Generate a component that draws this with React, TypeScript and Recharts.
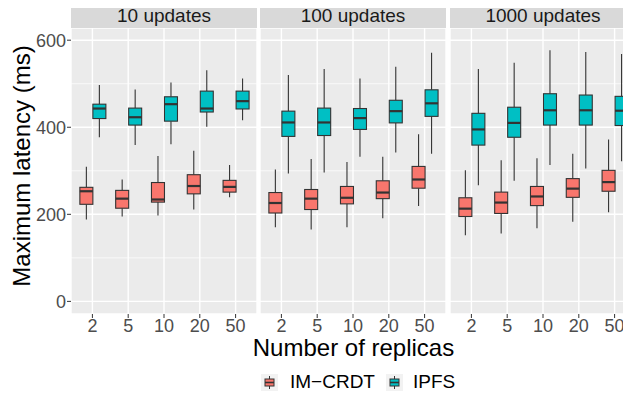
import React from "react";
import {
  ComposedChart,
  Bar,
  XAxis,
  YAxis,
  CartesianGrid,
} from "recharts";

// --- categories ---
const replicas = ["2", "5", "10", "20", "50"];
const facets = ["10 updates", "100 updates", "1000 updates"];
const yTicks = [0, 200, 400, 600];
const yMinor = [100, 300, 500];

// each entry: [lower whisker, q1, median, q3, upper whisker]
const crdt10 = [
  [188, 223, 253, 262, 309],
  [195, 214, 236, 255, 280],
  [197, 228, 234, 273, 334],
  [211, 247, 265, 291, 346],
  [239, 251, 263, 278, 313],
];
const ipfs10 = [
  [377, 420, 443, 453, 497],
  [359, 405, 423, 444, 487],
  [361, 414, 453, 470, 503],
  [401, 435, 443, 483, 531],
  [416, 442, 460, 483, 512],
];
const crdt100 = [
  [170, 203, 226, 250, 303],
  [165, 211, 236, 257, 327],
  [170, 224, 238, 264, 320],
  [191, 236, 250, 277, 332],
  [219, 260, 280, 310, 384],
];
const ipfs100 = [
  [294, 379, 411, 437, 520],
  [296, 381, 411, 444, 534],
  [332, 395, 421, 443, 512],
  [342, 410, 437, 462, 539],
  [339, 425, 455, 486, 571],
];
const crdt1000 = [
  [152, 195, 213, 238, 301],
  [156, 202, 227, 251, 324],
  [168, 220, 241, 264, 329],
  [183, 239, 259, 282, 339],
  [205, 253, 274, 301, 372],
];
const ipfs1000 = [
  [267, 359, 395, 432, 534],
  [277, 377, 410, 446, 548],
  [313, 405, 439, 477, 577],
  [305, 405, 439, 474, 573],
  [322, 404, 438, 471, 568],
];

const RED = "#F8766D";
const BLUE = "#00BFC4";
const INK = "#333333";

const buildRows = (crdt: number[][], ipfs: number[][]) =>
  replicas.map((rep, i) => ({ rep, crdt: crdt[i], ipfs: ipfs[i] }));

const facetData = [
  buildRows(crdt10, ipfs10),
  buildRows(crdt100, ipfs100),
  buildRows(crdt1000, ipfs1000),
];

// boxplot drawn inside the range bar [low, high]; other stats interpolated on the same scale
const makeBox = (key: "crdt" | "ipfs", color: string) => (props: any) => {
  const { x, y, width, height, payload } = props;
  const stats = payload[key];
  const [low, q1, med, q3, high] = stats;
  const top = Math.min(y, y + height);
  const bottom = Math.max(y, y + height);
  const py = (v: number) => bottom - ((v - low) / (high - low)) * (bottom - top);
  const cx = x + width / 2;
  return (
    <g>
      <line x1={cx} x2={cx} y1={py(high)} y2={py(q3)} stroke={INK} strokeWidth={1.1} />
      <line x1={cx} x2={cx} y1={py(q1)} y2={py(low)} stroke={INK} strokeWidth={1.1} />
      <rect
        x={x}
        y={py(q3)}
        width={width}
        height={py(q1) - py(q3)}
        fill={color}
        stroke={INK}
        strokeWidth={1.1}
      />
      <line x1={x} x2={x + width} y1={py(med)} y2={py(med)} stroke={INK} strokeWidth={2.2} />
    </g>
  );
};

const PANEL_TOP = 28;
const PANEL_H = 286;
const panels = [
  { left: 0, width: 257, axisW: 71 },
  { left: 260, width: 186, axisW: 0 },
  { left: 450, width: 186, axisW: 0 },
];

const Facet = ({ idx }: { idx: number }) => {
  const p = panels[idx];
  const showY = idx === 0;
  return (
    <div style={{ position: "absolute", left: p.left, top: PANEL_TOP }}>
      <ComposedChart
        width={p.width}
        height={PANEL_H + 34}
        data={facetData[idx]}
        margin={{ top: 0, right: 0, bottom: 0, left: 0 }}
        barCategoryGap="15%"
        barGap={0}
      >
        <CartesianGrid fill="#EBEBEB" stroke="#FFFFFF" strokeWidth={1.4} />
        <CartesianGrid
          horizontalValues={yMinor}
          vertical={false}
          stroke="#FFFFFF"
          strokeWidth={0.7}
        />
        <XAxis
          dataKey="rep"
          height={34}
          padding={{ left: 3.5, right: 3.5 }}
          axisLine={false}
          tickSize={4}
          tickMargin={1}
          tickLine={{ stroke: INK }}
          tick={{ fill: "#4D4D4D", fontSize: 18 }}
          interval={0}
        />
        <YAxis
          type="number"
          domain={[-29, 628]}
          ticks={yTicks}
          hide={!showY}
          width={p.axisW}
          axisLine={false}
          tickSize={4}
          tickMargin={1}
          tickLine={{ stroke: INK }}
          tick={{ fill: "#4D4D4D", fontSize: 18 }}
        />
        <Bar
          dataKey={(d: any) => [d.crdt[0], d.crdt[4]]}
          shape={makeBox("crdt", RED)}
          isAnimationActive={false}
        />
        <Bar
          dataKey={(d: any) => [d.ipfs[0], d.ipfs[4]]}
          shape={makeBox("ipfs", BLUE)}
          isAnimationActive={false}
        />
      </ComposedChart>
    </div>
  );
};

const LegendKey = ({ color, left }: { color: string; left: number }) => (
  <svg width={17} height={17} style={{ position: "absolute", left, top: 374 }}>
    <rect x={0} y={0} width={17} height={17} fill="#F2F2F2" />
    <line x1={8.5} x2={8.5} y1={2} y2={15} stroke={INK} strokeWidth={1} />
    <rect x={4} y={5} width={9} height={7} fill={color} stroke={INK} strokeWidth={1} />
    <line x1={4} x2={13} y1={8.5} y2={8.5} stroke={INK} strokeWidth={1.6} />
  </svg>
);

const legendText = (left: number): React.CSSProperties => ({
  position: "absolute",
  left,
  top: 371,
  lineHeight: "22px",
  fontSize: 19,
  color: "#000000",
  whiteSpace: "nowrap",
});

export default function App() {
  return (
    <div
      style={{
        position: "relative",
        width: 631,
        height: 400,
        margin: -8,
        overflow: "hidden",
        background: "#FFFFFF",
        fontFamily: "'Liberation Sans', Arial, sans-serif",
      }}
    >
      {facets.map((f, i) => (
        <div
          key={f}
          style={{
            position: "absolute",
            left: panels[i].left + panels[i].axisW,
            top: 3,
            width: panels[i].width - panels[i].axisW,
            height: 25,
            background: "#D9D9D9",
            color: "#1A1A1A",
            fontSize: 19,
            lineHeight: "25px",
            textAlign: "center",
          }}
        >
          {f}
        </div>
      ))}
      {facets.map((f, i) => (
        <Facet key={f} idx={i} />
      ))}
      <div
        style={{
          position: "absolute",
          left: 21.5,
          top: 166,
          transform: "translate(-50%, -50%) rotate(-90deg)",
          whiteSpace: "nowrap",
          fontSize: 24,
          color: "#000000",
        }}
      >
        Maximum latency (ms)
      </div>
      <div
        style={{
          position: "absolute",
          left: 353.5,
          top: 348,
          transform: "translate(-50%, -50%)",
          whiteSpace: "nowrap",
          fontSize: 24,
          color: "#000000",
        }}
      >
        Number of replicas
      </div>
      <LegendKey color={RED} left={261} />
      <div style={legendText(290)}>IM−CRDT</div>
      <LegendKey color={BLUE} left={386} />
      <div style={legendText(413)}>IPFS</div>
    </div>
  );
}
